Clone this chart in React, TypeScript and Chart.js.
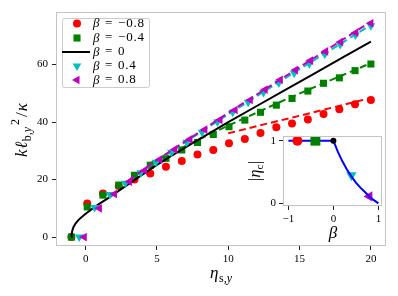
import React, { useEffect, useRef } from "react";
import { Chart, registerables } from "chart.js";
Chart.register(...registerables);

// ---------------- data ----------------
// main panel: k l_{b,y}^2 / kappa versus eta_{s,y}
const etaRed = [-1, 0.11, 1.21, 2.32, 3.42, 4.53, 5.63, 6.74, 7.84, 8.95, 10.05, 11.16, 12.26, 13.37, 14.47, 15.58, 16.68, 17.79, 18.89, 20];
const kRed = [0, 11.7, 15.2, 17.8, 20.0, 22.1, 24.5, 26.5, 28.7, 30.3, 32.6, 34.1, 36.2, 38.2, 39.5, 40.9, 42.8, 44.5, 46.2, 47.7];
const etaGreen = [-1, 0.11, 1.21, 2.32, 3.42, 4.53, 5.63, 6.74, 7.84, 8.95, 10.05, 11.16, 12.26, 13.37, 14.47, 15.58, 16.68, 17.79, 18.89, 20];
const kGreen = [0, 10.5, 14.6, 18.1, 21.5, 25.0, 27.4, 30.3, 32.9, 35.7, 38.4, 40.7, 43.4, 45.9, 48.2, 50.8, 53.5, 55.4, 57.9, 60.2];
const etaCyan = [-0.45, 0.63, 1.7, 2.78, 3.86, 4.93, 6.01, 7.08, 8.16, 9.24, 10.31, 11.39, 12.47, 13.54, 14.62, 15.69, 16.77, 17.85, 18.92, 20];
const kCyan = [0, 10.3, 14.8, 18.7, 22.4, 26.0, 29.5, 33.0, 36.5, 40.0, 43.4, 46.9, 50.3, 53.6, 57.0, 60.3, 63.6, 67.0, 70.3, 73.5];
const etaMag = [-0.1, 0.96, 2.02, 3.07, 4.13, 5.19, 6.25, 7.31, 8.36, 9.42, 10.48, 11.54, 12.59, 13.65, 14.71, 15.77, 16.83, 17.88, 18.94, 20];
const kMag = [0, 10.0, 15.0, 19.3, 23.2, 27.0, 30.5, 34.0, 37.4, 40.8, 44.2, 47.7, 51.3, 54.7, 58.1, 61.4, 64.6, 67.9, 71.1, 74.4];

// beta = 0 solid curve
const etaBlack = [-1, -0.98, -0.93, -0.85, -0.7, -0.5, -0.25, 0, 0.5, 1, 1.5, 2, 3, 4, 5, 6, 8, 10, 12, 14, 16, 18, 20];
const kBlack = [0, 1.2, 2.4, 3.5, 4.8, 6.0, 7.1, 8.1, 10.0, 11.7, 13.3, 15.0, 18.4, 21.8, 25.1, 28.2, 34.2, 40.0, 45.6, 51.2, 56.8, 62.4, 68.0];

// dashed large-eta fits
const etaRedFit = [10, 12.5, 15, 17.5, 20];
const kRedFit = [36.1, 39.2, 42.2, 45.3, 48.4];
const etaGreenFit = [4.5, 6, 8, 10, 12, 14, 16, 18, 20];
const kGreenFit = [25.6, 29.3, 34.1, 38.8, 43.3, 47.8, 52.1, 56.3, 60.5];
const etaCyanFit = [3, 5, 7.5, 10, 12.5, 15, 17.5, 20];
const kCyanFit = [19.6, 26.6, 34.7, 42.7, 50.6, 58.4, 66.1, 73.8];
const etaMagFit = [3, 5, 7.5, 10, 12.5, 15, 17.5, 20];
const kMagFit = [19.7, 26.8, 35.0, 43.2, 51.2, 59.1, 67.0, 75.0];

const xTicks = [0, 5, 10, 15, 20];
const yTicks = [0, 20, 40, 60];

// legend
const betaLabels = ["\u22120.8", "\u22120.4", "0", "0.4", "0.8"];

// inset: |eta_c| versus beta
const betaCurve = [-1, -0.5, 0, 0.1, 0.2, 0.3, 0.4, 0.5, 0.6, 0.7, 0.8, 0.9, 1];
const etaCCurve = [1, 1, 1, 0.82, 0.67, 0.54, 0.43, 0.33, 0.25, 0.18, 0.11, 0.05, 0];
const betaPts = [-0.8, -0.4, 0, 0.4, 0.8];
const etaCPts = [1, 1, 1, 0.45, 0.11];
const insetXTicks = [-1, 0, 1];
const insetYTicks = [0, 1];

// ---------------- styling ----------------
const SERIF = '"Liberation Serif", "DejaVu Serif", "Times New Roman", serif';
const RED = "#ff0000";
const GREEN = "#008000";
const CYAN = "#00bfbf";
const MAGENTA = "#bf00bf";
const BLUE = "#0000ff";
const SPINE = "#c4c4c4";

function pts(xs: number[], ys: number[]) {
  return xs.map((x, i) => ({ x, y: ys[i] }));
}

function markerDs(label: string, xs: number[], ys: number[], color: string, style: string, r: number, rot: number, order: number) {
  return {
    label,
    data: pts(xs, ys),
    showLine: false,
    pointStyle: style,
    pointRadius: r,
    pointHoverRadius: r,
    pointRotation: rot,
    pointBackgroundColor: color,
    pointBorderColor: color,
    pointBorderWidth: 0,
    backgroundColor: color,
    borderColor: color,
    order,
  };
}

function lineDs(label: string, xs: number[], ys: number[], color: string, dash: number[], width: number, order: number) {
  return {
    label,
    data: pts(xs, ys),
    showLine: true,
    pointRadius: 0,
    pointHoverRadius: 0,
    borderColor: color,
    backgroundColor: color,
    borderWidth: width,
    borderDash: dash,
    fill: false,
    tension: 0,
    order,
  };
}

type Seg = { t: string; size: number; italic?: boolean; dy?: number; dx?: number };

function drawSegs(ctx: CanvasRenderingContext2D, segs: Seg[], cx: number, baseline: number, rotate: boolean) {
  ctx.save();
  ctx.translate(cx, baseline);
  if (rotate) ctx.rotate(-Math.PI / 2);
  const fontOf = (s: Seg) => `${s.italic ? "italic " : ""}${s.size}px ${SERIF}`;
  let total = 0;
  const widths = segs.map((s) => {
    ctx.font = fontOf(s);
    const w = ctx.measureText(s.t).width + (s.dx || 0);
    total += w;
    return w;
  });
  let x = -total / 2;
  ctx.fillStyle = "#000";
  ctx.textBaseline = "alphabetic";
  ctx.textAlign = "left";
  segs.forEach((s, i) => {
    ctx.font = fontOf(s);
    ctx.fillText(s.t, x + (s.dx || 0), s.dy || 0);
    x += widths[i];
  });
  ctx.restore();
}

function drawMarker(ctx: CanvasRenderingContext2D, kind: string, x: number, y: number, r: number, color: string) {
  ctx.save();
  ctx.fillStyle = color;
  ctx.beginPath();
  const s60 = Math.sin(Math.PI / 3);
  if (kind === "circle") {
    ctx.arc(x, y, r, 0, Math.PI * 2);
  } else if (kind === "square") {
    const h = r * Math.SQRT1_2;
    ctx.rect(x - h, y - h, 2 * h, 2 * h);
  } else if (kind === "down") {
    ctx.moveTo(x, y + r);
    ctx.lineTo(x - r * s60, y - r / 2);
    ctx.lineTo(x + r * s60, y - r / 2);
    ctx.closePath();
  } else if (kind === "left") {
    ctx.moveTo(x - r, y);
    ctx.lineTo(x + r / 2, y - r * s60);
    ctx.lineTo(x + r / 2, y + r * s60);
    ctx.closePath();
  }
  ctx.fill();
  ctx.restore();
}

const minusFmt = (v: number | string) => {
  const n = Number(v);
  return n < 0 ? "\u2212" + String(Math.abs(n)) : String(n);
};

// ---------------- plugins ----------------
const mainDecor = {
  id: "mainDecor",
  afterDatasetsDraw(chart: any) {
    const { ctx, chartArea: a } = chart;
    ctx.save();
    ctx.strokeStyle = SPINE;
    ctx.lineWidth = 1;
    ctx.strokeRect(a.left + 0.5, a.top + 0.5, a.right - a.left - 1, a.bottom - a.top - 1);
    ctx.restore();
  },
  afterDraw(chart: any) {
    const ctx: CanvasRenderingContext2D = chart.ctx;
    // axis labels
    drawSegs(
      ctx,
      [
        { t: "k", size: 17, italic: true },
        { t: "\u2113", size: 17, italic: true, dx: 0.5 },
        { t: "b,", size: 12, dy: 4, dx: 0.5 },
        { t: "y", size: 12, italic: true, dy: 4 },
        { t: "2", size: 12, dy: -8, dx: 2 },
        { t: "/", size: 17, dx: 2 },
        { t: "\u03ba", size: 17, italic: true, dx: 1 },
      ],
      27,
      130,
      true
    );
    drawSegs(
      ctx,
      [
        { t: "\u03b7", size: 17, italic: true },
        { t: "s,", size: 12, dy: 4, dx: 0.5 },
        { t: "y", size: 12, italic: true, dy: 4 },
      ],
      221,
      278,
      false
    );

    // legend
    ctx.save();
    ctx.fillStyle = "rgba(255,255,255,0.85)";
    ctx.strokeStyle = "#cccccc";
    ctx.lineWidth = 1;
    ctx.beginPath();
    const bx = 62.5, by = 18.5, bw = 87, bh = 69;
    if ((ctx as any).roundRect) (ctx as any).roundRect(bx, by, bw, bh, 2);
    else ctx.rect(bx, by, bw, bh);
    ctx.fill();
    ctx.stroke();
    ctx.restore();

    const rows = [23.5, 38, 52, 66, 80];
    const mx = 77;
    drawMarker(ctx, "circle", mx, rows[0], 4, RED);
    drawMarker(ctx, "square", mx, rows[1], 5, GREEN);
    ctx.save();
    ctx.strokeStyle = "#000";
    ctx.lineWidth = 2;
    ctx.beginPath();
    ctx.moveTo(62, rows[2]);
    ctx.lineTo(90, rows[2]);
    ctx.stroke();
    ctx.restore();
    drawMarker(ctx, "down", mx, rows[3], 5, CYAN);
    drawMarker(ctx, "left", mx, rows[4], 5, MAGENTA);

    ctx.save();
    ctx.fillStyle = "#000";
    ctx.textBaseline = "middle";
    ctx.textAlign = "left";
    betaLabels.forEach((lab, i) => {
      const y = rows[i];
      ctx.font = `italic 13px ${SERIF}`;
      ctx.fillText("\u03b2", 93, y + 0.5);
      ctx.font = `13px ${SERIF}`;
      ctx.fillText("=", 105, y);
      (ctx as any).letterSpacing = "0.8px";
      ctx.fillText(lab, 118, y);
      (ctx as any).letterSpacing = "0px";
    });
    ctx.restore();
  },
};

const insetDecor = {
  id: "insetDecor",
  beforeDraw(chart: any) {
    const { ctx, chartArea: a } = chart;
    ctx.save();
    ctx.fillStyle = "#ffffff";
    ctx.fillRect(a.left, a.top, a.right - a.left, a.bottom - a.top);
    ctx.restore();
  },
  afterDatasetsDraw(chart: any) {
    const { ctx, chartArea: a } = chart;
    ctx.save();
    ctx.strokeStyle = SPINE;
    ctx.lineWidth = 1;
    ctx.strokeRect(a.left + 0.5, a.top + 0.5, a.right - a.left - 1, a.bottom - a.top - 1);
    ctx.restore();
  },
  afterDraw(chart: any) {
    const ctx: CanvasRenderingContext2D = chart.ctx;
    drawSegs(
      ctx,
      [
        { t: "|", size: 16 },
        { t: "\u03b7", size: 16, italic: true, dx: 0.5 },
        { t: "c", size: 11, dy: 3 },
        { t: "|", size: 16, dx: 0.5 },
      ],
      15,
      46,
      true
    );
    drawSegs(ctx, [{ t: "\u03b2", size: 17, italic: true }], 88, 113, false);
  },
};

// ---------------- configs ----------------
function mainConfig(): any {
  const datasets = [
    markerDs("beta=-0.8", etaRed, kRed, RED, "circle", 4, 0, 9),
    lineDs("fit -0.8", etaRedFit, kRedFit, RED, [7, 4], 2, 8),
    markerDs("beta=-0.4", etaGreen, kGreen, GREEN, "rect", 5, 0, 7),
    lineDs("fit -0.4", etaGreenFit, kGreenFit, GREEN, [7, 4], 2, 6),
    lineDs("beta=0", etaBlack, kBlack, "#000000", [], 2, 5),
    markerDs("beta=0.4", etaCyan, kCyan, CYAN, "triangle", 5, 180, 4),
    lineDs("fit 0.4", etaCyanFit, kCyanFit, CYAN, [7, 4], 2, 3),
    markerDs("beta=0.8", etaMag, kMag, MAGENTA, "triangle", 5, 270, 2),
    lineDs("fit 0.8", etaMagFit, kMagFit, MAGENTA, [7, 4], 2, 1),
  ];
  return {
    type: "scatter",
    data: { datasets },
    options: {
      responsive: false,
      animation: false,
      devicePixelRatio: 1,
      events: [],
      layout: { padding: { left: 0, top: 12, right: 12, bottom: 0 } },
      plugins: { legend: { display: false }, tooltip: { enabled: false } },
      scales: {
        x: {
          type: "linear",
          min: -2.08,
          max: 21.06,
          afterBuildTicks: (s: any) => {
            s.ticks = xTicks.map((v) => ({ value: v }));
          },
          afterFit: (s: any) => {
            s.height = 50;
          },
          grid: { display: true, drawOnChartArea: false, drawTicks: true, tickLength: 4, color: "#222", lineWidth: 1 },
          border: { display: false },
          ticks: { font: { family: SERIF, size: 11 }, color: "#000", padding: 3, maxRotation: 0, callback: (v: any) => minusFmt(v) },
          title: { display: false },
        },
        y: {
          type: "linear",
          min: -3.1,
          max: 78.3,
          afterBuildTicks: (s: any) => {
            s.ticks = yTicks.map((v) => ({ value: v }));
          },
          afterFit: (s: any) => {
            s.width = 56;
          },
          grid: { display: true, drawOnChartArea: false, drawTicks: true, tickLength: 4, color: "#222", lineWidth: 1 },
          border: { display: false },
          ticks: { font: { family: SERIF, size: 11 }, color: "#000", padding: 4, callback: (v: any) => minusFmt(v) },
          title: { display: false },
        },
      },
    },
    plugins: [mainDecor],
  };
}

function insetConfig(): any {
  const datasets = [
    markerDs("i red", [betaPts[0]], [etaCPts[0]], RED, "circle", 5, 0, 1),
    markerDs("i green", [betaPts[1]], [etaCPts[1]], GREEN, "rect", 7, 0, 2),
    markerDs("i black", [betaPts[2]], [etaCPts[2]], "#000000", "circle", 3, 0, 3),
    lineDs("i curve", betaCurve, etaCCurve, BLUE, [], 2, 4),
    markerDs("i cyan", [betaPts[3]], [etaCPts[3]], CYAN, "triangle", 6, 180, 5),
    markerDs("i magenta", [betaPts[4]], [etaCPts[4]], MAGENTA, "triangle", 6, 270, 6),
  ];
  return {
    type: "scatter",
    data: { datasets },
    options: {
      responsive: false,
      animation: false,
      devicePixelRatio: 1,
      events: [],
      layout: { padding: { left: 0, top: 11, right: 13, bottom: 0 } },
      plugins: { legend: { display: false }, tooltip: { enabled: false } },
      scales: {
        x: {
          type: "linear",
          min: -1.12,
          max: 1.08,
          afterBuildTicks: (s: any) => {
            s.ticks = insetXTicks.map((v) => ({ value: v }));
          },
          afterFit: (s: any) => {
            s.height = 44;
          },
          grid: { display: true, drawOnChartArea: false, drawTicks: true, tickLength: 4, color: "#222", lineWidth: 1 },
          border: { display: false },
          ticks: { font: { family: SERIF, size: 11 }, color: "#000", padding: 3, maxRotation: 0, callback: (v: any) => minusFmt(v) },
        },
        y: {
          type: "linear",
          min: -0.043,
          max: 1.075,
          afterBuildTicks: (s: any) => {
            s.ticks = insetYTicks.map((v) => ({ value: v }));
          },
          afterFit: (s: any) => {
            s.width = 38;
          },
          grid: { display: true, drawOnChartArea: false, drawTicks: true, tickLength: 4, color: "#222", lineWidth: 1 },
          border: { display: false },
          ticks: { font: { family: SERIF, size: 11 }, color: "#000", padding: 3, callback: (v: any) => minusFmt(v) },
        },
      },
    },
    plugins: [insetDecor],
  };
}

export default function App() {
  const mainRef = useRef<HTMLCanvasElement>(null);
  const insetRef = useRef<HTMLCanvasElement>(null);
  useEffect(() => {
    const main = new Chart(mainRef.current as HTMLCanvasElement, mainConfig());
    const inset = new Chart(insetRef.current as HTMLCanvasElement, insetConfig());
    return () => {
      main.destroy();
      inset.destroy();
    };
  }, []);
  return (
    <div style={{ position: "absolute", left: 0, top: 0, width: 398, height: 296, background: "#fff" }}>
      <canvas ref={mainRef} width={398} height={296} style={{ position: "absolute", left: 0, top: 0, width: 398, height: 296 }} />
      <canvas ref={insetRef} width={150} height={125} style={{ position: "absolute", left: 245, top: 125, width: 150, height: 125 }} />
    </div>
  );
}
